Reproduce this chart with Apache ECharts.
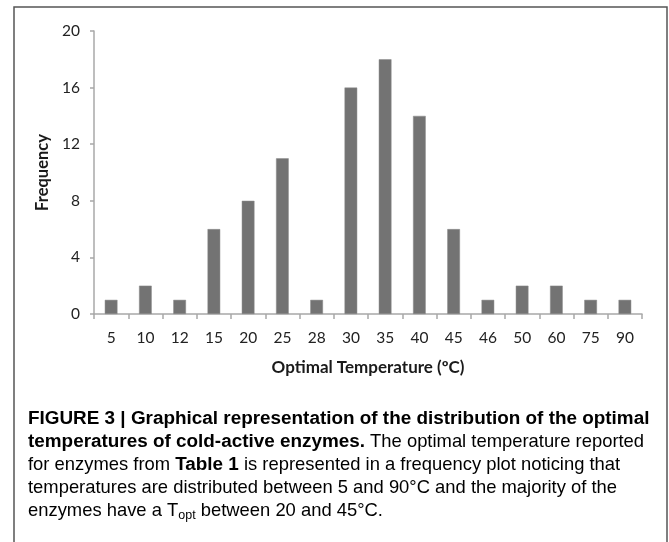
<!DOCTYPE html>
<html>
<head>
<meta charset="utf-8">
<script src="https://cdn.jsdelivr.net/npm/echarts@6/dist/echarts.min.js"></script>
<style>
html,body{margin:0;padding:0;background:#fff;}
#chart{width:669px;height:542px;}
</style>
</head>
<body>
<div id="chart"></div>
<script>
var categories = ['5','10','12','15','20','25','28','30','35','40','45','46','50','60','75','90'];
var frequency = [1,2,1,6,8,11,1,16,18,14,6,1,2,2,1,1];
var yTicks = {min:0, max:20, interval:4};
var xName = 'Optimal Temperature (ºC)';
var yName = 'Frequency';
var captionLines = [
  '{b|FIGURE 3 | Graphical representation of the distribution of the optimal}',
  '{b|temperatures of cold-active enzymes.}{r| The optimal temperature reported}',
  '{r|for enzymes from }{b|Table 1}{r| is represented in a frequency plot noticing that}',
  '{r|temperatures are distributed between 5 and 90°C and the majority of the}',
  '{r|enzymes have a T}{s|opt}{r| between 20 and 45°C.}'
];

var chart = echarts.init(document.getElementById('chart'), null, {renderer:'canvas'});
var capFont = '"Liberation Sans", Arial, sans-serif';
var rich = {
  b:{fontFamily:capFont, fontWeight:'bold', fontSize:18.9, color:'#1a1a1a'},
  r:{fontFamily:capFont, fontSize:18.4, color:'#3a3a3a'},
  s:{fontFamily:capFont, fontSize:12.5, color:'#3a3a3a', padding:[9,0,0,0]}
};
var graphics = [
  {type:'rect', shape:{x:14, y:7, width:653, height:560}, style:{fill:'none', stroke:'#555', lineWidth:1.5}, silent:true}
];
captionLines.forEach(function(t,i){
  graphics.push({type:'text', left:28, top:409 + i*23.2, style:{text:t, rich:rich}, silent:true});
});

var labelFont = 'Lato, "Open Sans", sans-serif';
chart.setOption({
  animation:false,
  backgroundColor:'#fff',
  grid:{left:94, right:27, top:31, bottom:228},
  xAxis:{
    type:'category', data:categories,
    name:xName, nameLocation:'middle', nameGap:45,
    nameTextStyle:{fontFamily:labelFont, fontWeight:'bold', fontSize:17, color:'#1a1a1a'},
    axisLine:{lineStyle:{color:'#a8a8a8', width:1.5}},
    axisTick:{show:true, length:5, lineStyle:{color:'#a8a8a8', width:1.5}},
    axisLabel:{margin:16, fontFamily:labelFont, fontSize:15.5, color:'#222'}
  },
  yAxis:{
    type:'value', min:yTicks.min, max:yTicks.max, interval:yTicks.interval,
    name:yName, nameLocation:'middle', nameGap:32, nameRotate:90,
    nameTextStyle:{fontFamily:labelFont, fontWeight:'bold', fontSize:16.5, color:'#1a1a1a'},
    axisLine:{show:true, lineStyle:{color:'#a8a8a8', width:1.5}},
    axisTick:{show:true, length:4, lineStyle:{color:'#a8a8a8', width:1.5}},
    splitLine:{show:false},
    axisLabel:{margin:14, fontFamily:labelFont, fontSize:15.5, color:'#222'}
  },
  series:[{
    type:'bar', data:frequency, barWidth:'37%',
    itemStyle:{color:'#737373', borderColor:'#8a8a8a', borderWidth:0.5}
  }],
  graphic:graphics
});
</script>
</body>
</html>
